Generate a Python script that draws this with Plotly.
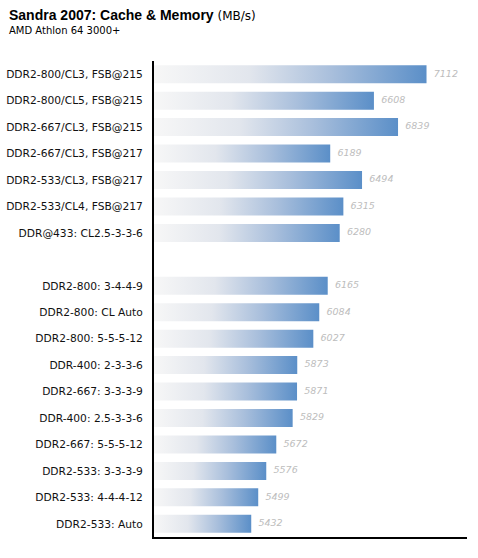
import plotly.graph_objects as go

# configurations, top to bottom (blank entry = gap between the two groups)
configs = [
    "DDR2-800/CL3, FSB@215",
    "DDR2-800/CL5, FSB@215",
    "DDR2-667/CL3, FSB@215",
    "DDR2-667/CL3, FSB@217",
    "DDR2-533/CL3, FSB@217",
    "DDR2-533/CL4, FSB@217",
    "DDR@433: CL2.5-3-3-6",
    "",
    "DDR2-800: 3-4-4-9",
    "DDR2-800: CL Auto",
    "DDR2-800: 5-5-5-12",
    "DDR-400: 2-3-3-6",
    "DDR2-667: 3-3-3-9",
    "DDR-400: 2.5-3-3-6",
    "DDR2-667: 5-5-5-12",
    "DDR2-533: 3-3-3-9",
    "DDR2-533: 4-4-4-12",
    "DDR2-533: Auto",
]
bandwidth = [7112, 6608, 6839, 6189, 6494, 6315, 6280, None,
             6165, 6084, 6027, 5873, 5871, 5829, 5672, 5576, 5499, 5432]

x_min, x_max = 4500, 7500
half = 0.34
font = "DejaVu Sans, Verdana, sans-serif"
grad = [[0, "#f7f7f7"], [0.35, "#e2e6ed"], [0.65, "#a9bfdc"], [1, "#5b8fc8"]]

fig = go.Figure()

for i, v in enumerate(bandwidth):
    if v is None:
        continue
    fig.add_trace(go.Scatter(
        x=[x_min, v, v, x_min, x_min],
        y=[i - half, i - half, i + half, i + half, i - half],
        mode="lines",
        line=dict(width=0),
        fill="toself",
        fillgradient=dict(type="horizontal", colorscale=grad),
        hoverinfo="skip",
        showlegend=False,
    ))

idx = [i for i, v in enumerate(bandwidth) if v is not None]
vals = [bandwidth[i] for i in idx]
fig.add_trace(go.Scatter(
    x=vals,
    y=idx,
    mode="markers+text",
    marker=dict(size=10, opacity=0),
    text=[str(v) for v in vals],
    textposition="middle right",
    textfont=dict(family=font, size=9.5, color="#bdbdbd", style="italic"),
    showlegend=False,
    hoverinfo="skip",
))

fig.update_layout(
    width=478,
    height=558,
    margin=dict(l=154, r=11, t=61, b=21),
    plot_bgcolor="white",
    paper_bgcolor="white",
    font=dict(family=font, size=10.7, color="#111111"),
    xaxis=dict(range=[x_min, x_max], showgrid=False, zeroline=False,
               showticklabels=False, showline=True, linecolor="black",
               linewidth=2, automargin=False),
    yaxis=dict(range=[17.5, -0.5], showgrid=False, zeroline=False,
               tickvals=list(range(len(configs))), ticktext=configs,
               showline=True, linecolor="black", linewidth=2,
               ticks="", ticklabelstandoff=7, automargin=False),
    annotations=[
        dict(text="<b>Sandra 2007: Cache & Memory</b> "
                  "<span style='font-family:DejaVu Sans;font-size:12px'>(MB/s)</span>",
             xref="paper", yref="paper", x=-147 / 313, y=1 + 36 / 476,
             xanchor="left", yanchor="bottom", showarrow=False,
             font=dict(family="Liberation Sans, Arial, sans-serif", size=14,
                       color="#000000")),
        dict(text="AMD Athlon 64 3000+",
             xref="paper", yref="paper", x=-147 / 313, y=1 + 23 / 476,
             xanchor="left", yanchor="bottom", showarrow=False,
             font=dict(family=font, size=10, color="#000000")),
    ],
)

fig.write_html("out.html", config={"displayModeBar": False},
               post_script="document.body.style.margin='0';")
